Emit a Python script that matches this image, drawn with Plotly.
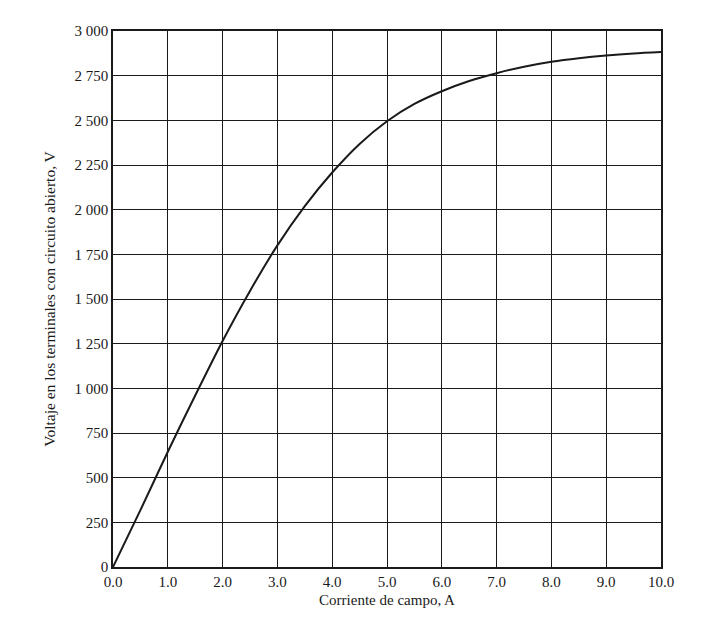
import plotly.graph_objects as go

current = [0, 0.5, 1, 1.5, 2, 2.5, 3, 3.5, 4, 4.5, 5, 5.5, 6, 6.5, 7, 7.5, 8, 8.5, 9, 9.5, 10]
voltage = [0, 318, 645, 960, 1265, 1545, 1800, 2020, 2208, 2368, 2495, 2592, 2663, 2720, 2764, 2800, 2828, 2848, 2863, 2874, 2882]

x_ticks = [i for i in range(11)]
x_ticktext = [f"{i:.1f}" for i in range(11)]
y_ticks = [i * 250 for i in range(13)]
y_ticktext = ["0", "250", "500", "750", "1 000", "1 250", "1 500", "1 750", "2 000", "2 250", "2 500", "2 750", "3 000"]

fig = go.Figure()
fig.add_trace(go.Scatter(x=current, y=voltage, mode="lines",
                         line=dict(color="#1a1a1a", width=2, shape="spline", smoothing=0.8),
                         showlegend=False))

axis_common = dict(showgrid=True, gridcolor="#1a1a1a", gridwidth=1.3,
                   showline=True, linecolor="#1a1a1a", linewidth=1.5, mirror=True,
                   zeroline=False, ticks="", color="#1a1a1a", automargin=False,
                   tickfont=dict(family="Liberation Serif", size=15, color="#1a1a1a"))

fig.update_xaxes(range=[0, 10], tickvals=x_ticks, ticktext=x_ticktext,
                 title=dict(text="Corriente de campo, A", standoff=6,
                            font=dict(family="Liberation Serif", size=15, color="#1a1a1a")),
                 **axis_common)
fig.update_yaxes(range=[0, 3000], tickvals=y_ticks, ticktext=y_ticktext,
                 title=dict(text="Voltaje en los terminales con circuito abierto, V", standoff=15,
                            font=dict(family="Liberation Serif", size=15.5, color="#1a1a1a")),
                 **axis_common)

fig.update_layout(width=724, height=621, margin=dict(l=105, r=71, t=23, b=62),
                  plot_bgcolor="white", paper_bgcolor="white",
                  font=dict(family="Liberation Serif", size=15, color="#1a1a1a"))

fig.write_html("out.html")
